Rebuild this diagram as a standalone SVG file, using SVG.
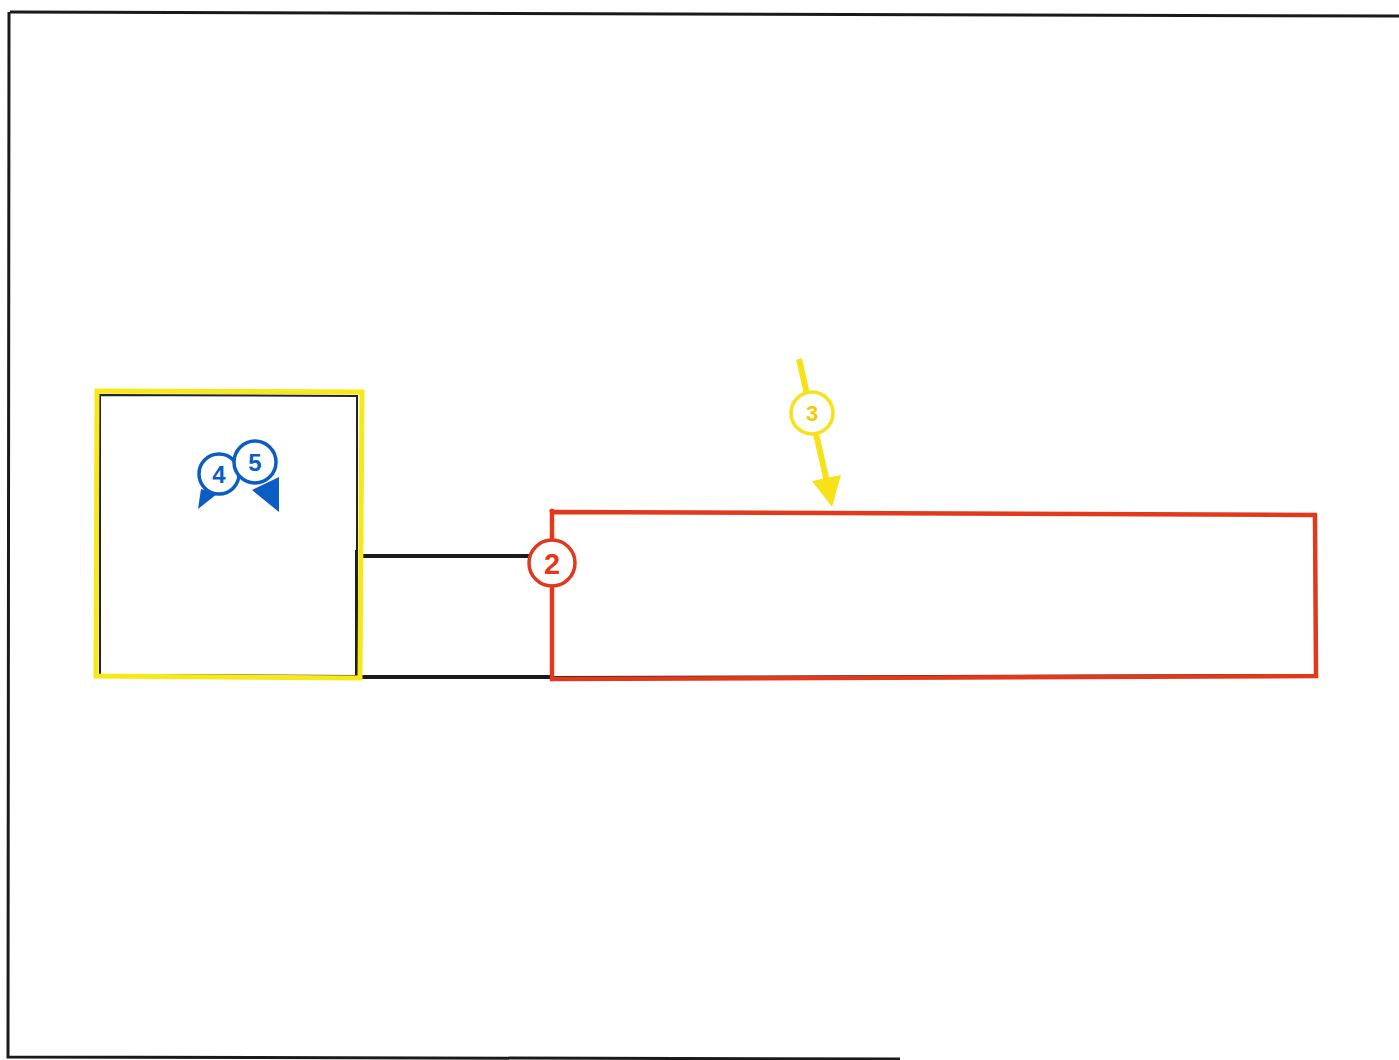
<svg xmlns="http://www.w3.org/2000/svg" width="1399" height="1060" viewBox="0 0 1399 1060">
<style>
.frame{fill:none;stroke:#1a1a1a;stroke-width:3}
.blk{fill:none;stroke:#1a1a1a;stroke-width:4}
.yel{fill:none;stroke:#f7e81a;stroke-width:5}
.red{fill:none;stroke:#e2381c;stroke-width:4.5}
.lbl{font-family:"Liberation Sans",Arial,sans-serif;font-weight:bold;text-anchor:middle}
</style>
<rect width="1399" height="1060" fill="#ffffff"/>
<g id="frame">
<path class="frame" d="M10,12 L1399,16"/>
<path class="frame" d="M9,12 L8,1057 L900,1059"/>
</g>
<g id="connectors">
<path class="blk" d="M362,556 L530,556"/>
<path d="M356,550 L356,676" fill="none" stroke="#1a1a1a" stroke-width="2"/>
<path class="blk" d="M362,677 L552,677"/>
</g>
<g id="node-yellow-box">
<path d="M100,395 L357,396 L357,676 L100,675 Z" fill="none" stroke="#222" stroke-width="2"/>
<path class="yel" d="M97,391 L362,392 L360,678 L96,676 Z"/>
</g>
<g id="node-red-box">
<path d="M553,677 L1314,675" fill="none" stroke="#222" stroke-width="2"/>
<path class="red" d="M552,512 L1315,515 L1316,676 L552,679 Z"/>
<circle cx="552" cy="511" r="2.5" fill="#e2381c"/>
</g>
<g id="node-2">
<circle cx="552" cy="563" r="23" fill="#ffffff" stroke="#e2381c" stroke-width="3.5"/>
<text class="lbl" x="552" y="574" font-size="29" fill="#e2381c">2</text>
</g>
<g id="node-3">
<path d="M799,359 L827,482" fill="none" stroke="#f7e21a" stroke-width="6"/>
<polygon points="812,481 841,475 832,507" fill="#f7e21a"/>
<circle cx="812" cy="413" r="21" fill="#ffffff" stroke="#f7e21a" stroke-width="3.5"/>
<text class="lbl" x="812" y="421" font-size="22" fill="#f5c800">3</text>
</g>
<g id="node-4">
<polygon points="198,509 201,489 217,494" fill="#0b5cc4"/>
<circle cx="219" cy="474" r="20" fill="#ffffff" stroke="#0b5cc4" stroke-width="3.5"/>
<text class="lbl" x="219" y="483" font-size="24" fill="#0b5cc4">4</text>
</g>
<g id="node-5">
<polygon points="279,477 279,512 252,490" fill="#0b5cc4"/>
<circle cx="255" cy="462" r="21" fill="#ffffff" stroke="#0b5cc4" stroke-width="3.5"/>
<text class="lbl" x="255" y="471" font-size="24" fill="#0b5cc4">5</text>
</g>
</svg>
